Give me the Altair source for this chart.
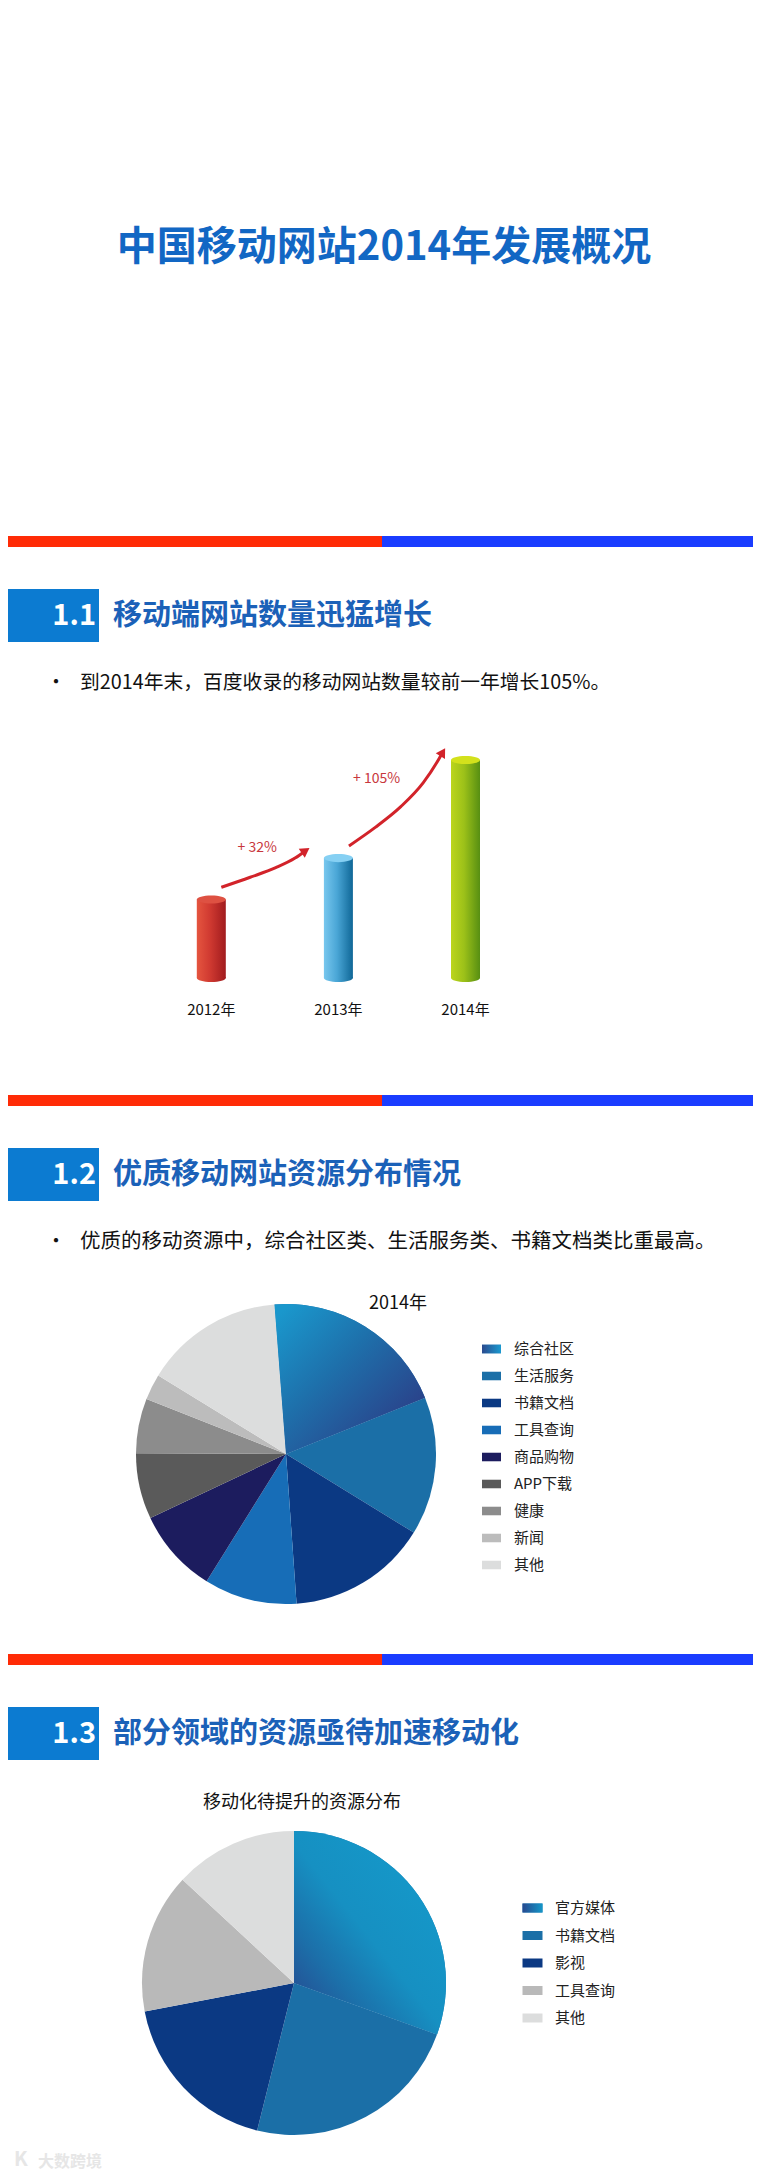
import math
import altair as alt
import pandas as pd

FONT = "Noto Sans CJK SC"
W = 745

# ---------------- data ----------------
main_title = "中国移动网站2014年发展概况"

sec_nums = ["1.1", "1.2", "1.3"]
sec_titles = ["移动端网站数量迅猛增长", "优质移动网站资源分布情况", "部分领域的资源亟待加速移动化"]
sec_bullets = ["到2014年末，百度收录的移动网站数量较前一年增长105%。",
               "优质的移动资源中，综合社区类、生活服务类、书籍文档类比重最高。",
               None]
bullet_sizes = [19.8, 20.5, 20.5]

years = [2012, 2013, 2014]
year_labels = ["2012年", "2013年", "2014年"]
site_index = [36, 55, 100]          # relative number of mobile sites (2014 = 100)

growth_labels = ["+ 32%", "+ 105%"]
growth_label_years = [2012.361, 2013.301]
growth_label_vals = [59.6, 91.3]

arrow1_years = [2012.079, 2012.306, 2012.507, 2012.659, 2012.742]
arrow1_vals = [41.6, 46.2, 50.6, 55.0, 58.4]
arrow2_years = [2013.083, 2013.290, 2013.491, 2013.668, 2013.794, 2013.821]
arrow2_vals = [60.6, 69.1, 78.6, 89.6, 100.8, 103.6]
head_years = [2012.742, 2013.821]
head_vals = [58.4, 103.6]
head_angles = [56, 31]

pie1_title = "2014年"
pie1_cats = ["综合社区", "生活服务", "书籍文档", "工具查询", "商品购物", "APP下载", "健康", "新闻", "其他"]
pie1_vals = [20.1, 14.9, 15.1, 10.0, 9.1, 7.1, 5.9, 2.8, 15.0]
pie1_colors = ["#1f72ae", "#1b6fa7", "#0b3983", "#176db7", "#1c1c5e", "#5a5a5a", "#8c8c8c", "#bcbcbc", "#dcdddd"]

pie2_title = "移动化待提升的资源分布"
pie2_cats = ["官方媒体", "书籍文档", "影视", "工具查询", "其他"]
pie2_vals = [30.5, 23.4, 18.1, 14.9, 13.1]
pie2_colors = ["#1a7fb8", "#1b6fa7", "#0b3983", "#b9b9b9", "#dcdddd"]

watermark = "大数跨境"

# ---------------- helpers ----------------
ONE = alt.Data(values=[{"k": 1}])


def rect(x0, x1, y0, y1, color):
    return alt.Chart(ONE).mark_rect(color=color, strokeWidth=0).encode(
        x=alt.value(x0), x2=alt.value(x1), y=alt.value(y0), y2=alt.value(y1))


def text(t, x, y, size, color, weight="normal", align="left"):
    return alt.Chart(alt.Data(values=[{"t": t}])).mark_text(
        align=align, baseline="middle", fontSize=size, font=FONT,
        fontWeight=weight, color=color).encode(
        x=alt.value(x), y=alt.value(y), text="t:N")


def section(i):
    layers = [
        rect(0, 374, 8, 19, "#ff2b06"),
        rect(374, W, 8, 19, "#1a3cff"),
        rect(0, 91, 61, 114, "#0c7bd1"),
        text(sec_nums[i], 88, 88, 29, "white", "bold", "right"),
        text(sec_titles[i], 105, 88, 29, "#1b61b8", "bold", "left"),
    ]
    if sec_bullets[i]:
        layers += [text("•", 48, 155, 20, "#111111", "normal", "center"),
                   text(sec_bullets[i], 72, 155, bullet_sizes[i], "#111111")]
    return layers


ELLIPSE = "M -1 0 A 1 0.28 0 1 1 1 0 A 1 0.28 0 1 1 -1 0 Z"
SWATCH = "M -1 -0.45 L 1 -0.45 L 1 0.45 L -1 0.45 Z"


def hgrad(stops):
    return alt.Gradient(gradient="linear", x1=0, x2=1, y1=0, y2=0,
                        stops=[alt.GradientStop(offset=o, color=c) for o, c in stops])


# ---------------- panel 0: main title ----------------
p0 = alt.layer(text(main_title, 376, 240, 40, "#1267c4", "bold", "center")).properties(width=W, height=520)

# ---------------- panel 1: cylinders ----------------
xs = alt.Scale(domain=[2012, 2014], range=[198.3, 462.5], zero=False, nice=False)
ys = alt.Scale(domain=[0, 100], range=[450, 232], zero=False, nice=False)

bar_df = pd.DataFrame({"year": years, "label": year_labels, "val": site_index})
bar_base = alt.Chart(bar_df).transform_calculate(zero="0")

body_grads = [
    hgrad([(0, "#e5553f"), (0.45, "#d03a31"), (1, "#a11b1e")]),
    hgrad([(0, "#78c7ee"), (0.45, "#4aa6d6"), (1, "#0f6797")]),
    hgrad([(0, "#bcd51c"), (0.45, "#9cc119"), (1, "#578f12")]),
]
top_colors = ["#de5142", "#86d0f3", "#d3e11c"]

X = alt.X("year:Q", scale=xs, axis=None)
bar_layers = []
for i, yr in enumerate(years):
    sub = bar_base.transform_filter(alt.datum.year == yr)
    bar_layers.append(sub.mark_point(shape=ELLIPSE, size=841, filled=True, fill=body_grads[i],
                                     opacity=1, strokeWidth=0).encode(
        x=X, y=alt.Y("zero:Q", scale=ys, axis=None)))
    bar_layers.append(sub.mark_bar(size=29, orient="vertical", fill=body_grads[i], strokeWidth=0).encode(
        x=X, y=alt.Y("val:Q", scale=ys, axis=None), y2="zero:Q"))
    bar_layers.append(sub.mark_point(shape=ELLIPSE, size=841, filled=True, fill=top_colors[i],
                                     opacity=1, strokeWidth=0).encode(
        x=X, y=alt.Y("val:Q", scale=ys, axis=None)))

labels = alt.Chart(bar_df).mark_text(fontSize=15, font=FONT, color="#111111", baseline="middle").encode(
    x=X, y=alt.value(482), text="label:N")

arrow_df = pd.DataFrame({
    "arrow": [1] * len(arrow1_years) + [2] * len(arrow2_years),
    "ax": arrow1_years + arrow2_years,
    "ay": arrow1_vals + arrow2_vals,
    "ord": list(range(len(arrow1_years))) + list(range(len(arrow2_years))),
})
arrows = alt.Chart(arrow_df).mark_line(color="#d2232a", strokeWidth=3, interpolate="monotone").encode(
    x=alt.X("ax:Q", scale=xs, axis=None), y=alt.Y("ay:Q", scale=ys, axis=None),
    detail="arrow:N", order="ord:Q")

head_df = pd.DataFrame({"hx": head_years, "hy": head_vals, "ang": head_angles})
heads = alt.Chart(head_df).mark_point(shape="triangle-up", size=115, filled=True, color="#d2232a",
                                      opacity=1, strokeWidth=0).encode(
    x=alt.X("hx:Q", scale=xs, axis=None), y=alt.Y("hy:Q", scale=ys, axis=None),
    angle=alt.Angle("ang:Q", scale=None))

glab_df = pd.DataFrame({"gx": growth_label_years, "gy": growth_label_vals, "g": growth_labels})
glabs = alt.Chart(glab_df).mark_text(fontSize=14, font=FONT, color="#c8373c", baseline="middle").encode(
    x=alt.X("gx:Q", scale=xs, axis=None), y=alt.Y("gy:Q", scale=ys, axis=None), text="g:N")

p1 = alt.layer(*section(0), *bar_layers, labels, arrows, heads, glabs).properties(width=W, height=559)


# ---------------- pies ----------------
def pie(cats, vals, colors, cx, cy, r, start_deg, grad, sw_grad, title, tx, ty,
        lx, ltx, ly0, ly1, sw_size):
    df = pd.DataFrame({"cat": cats, "val": vals, "ord": list(range(len(cats)))})
    base = alt.Chart(df).transform_window(
        cum="sum(val)", sort=[alt.SortField("ord")], frame=[None, 0]
    ).transform_calculate(st="datum.cum - datum.val")
    a0 = math.radians(start_deg)
    th_scale = alt.Scale(domain=[0, 100], range=[a0, a0 + 2 * math.pi], zero=False, nice=False)
    c_scale = alt.Scale(domain=cats, range=colors)
    th = alt.Theta("st:Q", scale=th_scale, stack=None)
    arcs = base.mark_arc(radius=r, strokeWidth=0).encode(
        theta=th, theta2="cum:Q", color=alt.Color("cat:N", scale=c_scale, legend=None),
        x=alt.value(cx), y=alt.value(cy))
    garc = base.transform_filter(alt.datum.ord == 0).mark_arc(radius=r, fill=grad, strokeWidth=0).encode(
        theta=th, theta2="cum:Q", x=alt.value(cx), y=alt.value(cy))
    yl = alt.Scale(domain=cats, range=[ly0, ly1], type="point", padding=0)
    sw = alt.Chart(df).mark_point(shape=SWATCH, size=sw_size, filled=True, opacity=1, strokeWidth=0).encode(
        x=alt.value(lx), y=alt.Y("cat:N", scale=yl, axis=None),
        color=alt.Color("cat:N", scale=c_scale, legend=None))
    gsw = alt.Chart(df).transform_filter(alt.datum.ord == 0).mark_point(
        shape=SWATCH, size=sw_size, filled=True, fill=sw_grad, opacity=1, strokeWidth=0).encode(
        x=alt.value(lx), y=alt.Y("cat:N", scale=yl, axis=None))
    lt = alt.Chart(df).mark_text(align="left", baseline="middle", fontSize=15, font=FONT,
                                 color="#222222").encode(
        x=alt.value(ltx), y=alt.Y("cat:N", scale=yl, axis=None), text="cat:N")
    tt = text(title, tx, ty, 18, "#111111", "normal", "center")
    return [arcs, garc, tt, sw, gsw, lt]


grad1 = alt.Gradient(gradient="linear", x1=0.1, y1=0, x2=0.9, y2=0.8, stops=[
    alt.GradientStop(offset=0, color="#1a97cc"),
    alt.GradientStop(offset=0.45, color="#1e70ab"),
    alt.GradientStop(offset=1, color="#2b3f88")])
sw1 = hgrad([(0, "#2b4a8e"), (1, "#1a9ad0")])

grad2 = alt.Gradient(gradient="linear", x1=0, y1=0.9, x2=0.7, y2=0.15, stops=[
    alt.GradientStop(offset=0, color="#27488f"),
    alt.GradientStop(offset=0.3, color="#1c6fa9"),
    alt.GradientStop(offset=0.6, color="#1690c2"),
    alt.GradientStop(offset=1, color="#1597c8")])
sw2 = hgrad([(0, "#27488f"), (1, "#1597c8")])

p2 = alt.layer(*section(1), *pie(pie1_cats, pie1_vals, pie1_colors, 278, 367, 150, -4.4, grad1, sw1,
                                  pie1_title, 390, 217, 483.5, 506, 262, 478, 361)
               ).properties(width=W, height=559)

wm = [text("K", 6, 514, 20, "#e6e6e6", "bold", "left"),
      text(watermark, 30, 516, 16, "#e6e6e6", "bold", "left")]

p3 = alt.layer(*section(2), *pie(pie2_cats, pie2_vals, pie2_colors, 286, 337, 152, 0, grad2, sw2,
                                  pie2_title, 294, 157, 524.5, 547, 262, 372, 400), *wm
               ).properties(width=W, height=527)

chart = alt.vconcat(p0, p1, p2, p3, spacing=0, bounds="flush").resolve_scale(
    x="independent", y="independent", color="independent", theta="independent"
).properties(padding=0, background="white").configure_view(strokeWidth=0)

chart.save("out.html", embed_options={"renderer": "svg", "actions": False})
